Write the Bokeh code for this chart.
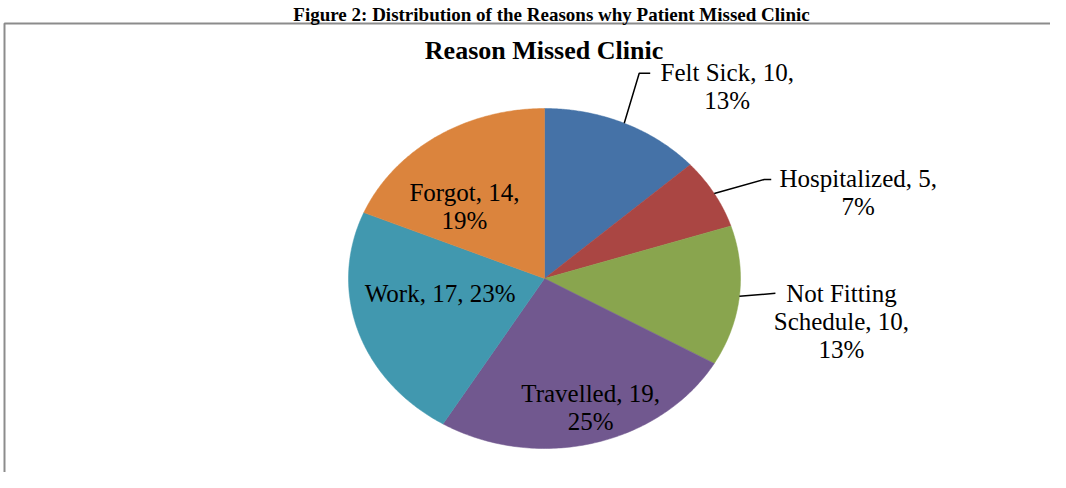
import numpy as np
from bokeh.plotting import figure
from bokeh.models import Range1d, ColumnDataSource
from bokeh.core.properties import value
from bokeh.embed import file_html
from bokeh.resources import INLINE

# ---------------- data ----------------
categories = ["Felt Sick", "Hospitalized", "Not Fitting Schedule", "Travelled", "Work", "Forgot"]
counts = [10, 5, 10, 19, 17, 14]
colors = ["#4572A7", "#AA4643", "#89A54E", "#71588F", "#4198AF", "#DB843D"]
chart_title = "Reason Missed Clinic"
figure_caption = "Figure 2: Distribution of the Reasons why Patient Missed Clinic"

# ---------------- layout / style ----------------
W, H = 1050, 472
CX, CY = 544, 278          # pie centre (px)
RX, RY = 196, 170          # pie radii (px) - the original is stretched horizontally
FONT = "Liberation Serif"
LABEL_SIZE = "25px"
LINE_GAP = 28
# words per line for each label, anchor (radial factor, dx, dy), leader offsets from edge point
label_wrap = [[3, 1], [2, 1], [2, 2, 1], [2, 1], [3], [2, 1]]
label_anchor = [(1.0, 103, -51), (1.0, 144, -15), (1.0, 102, -3),
                (0.70, 12, 0), (0.56, 0, -14), (0.60, -15, -1)]
leaders = [[(0, 0), (15, -50), (26, -50)],
           [(0, 0), (50, -14), (57, -14)],
           [(0, 0), (36, -3)],
           None, None, None]

# data coordinates == canvas pixel coordinates
p = figure(width=W, height=H, x_range=Range1d(0, W), y_range=Range1d(H, 0),
           output_backend="svg", toolbar_location=None, min_border=0,
           outline_line_color=None, background_fill_color="white",
           border_fill_color="white")
p.axis.visible = False
p.grid.visible = False

# chart border (grey frame)
p.line([4, 4, W + 20], [H + 20, 23, 23], line_color="#8c8c8c", line_width=2)

# pie slices
total = float(sum(counts))
fracs = np.array(counts) / total
ends = np.cumsum(fracs) * 2 * np.pi
starts = ends - fracs * 2 * np.pi
xs, ys = [], []
for a0, a1 in zip(starts, ends):
    t = np.linspace(a0, a1, 120)
    xs.append([CX] + list(CX + RX * np.sin(t)) + [CX])
    ys.append([CY] + list(CY - RY * np.cos(t)) + [CY])
p.patches(xs="xs", ys="ys", fill_color="color", line_color="color", line_width=0.5,
          source=ColumnDataSource(dict(xs=xs, ys=ys, color=colors)))

# labels
pcts = [f"{round(f * 100):.0f}%" for f in fracs]
tx, ty, tt = [], [], []
for i, (cat, n, pc) in enumerate(zip(categories, counts, pcts)):
    mid = (starts[i] + ends[i]) / 2
    ex, ey = CX + RX * np.sin(mid), CY - RY * np.cos(mid)
    r, dx, dy = label_anchor[i]
    ax = CX + r * RX * np.sin(mid) + dx
    ay = CY - r * RY * np.cos(mid) + dy
    words = f"{cat}, {n}, {pc}".split(" ")
    k = 0
    for j, nw in enumerate(label_wrap[i]):
        tx.append(ax)
        ty.append(ay + j * LINE_GAP)
        tt.append(" ".join(words[k:k + nw]))
        k += nw
    if leaders[i]:
        p.line([ex + o[0] for o in leaders[i]], [ey + o[1] for o in leaders[i]],
               line_color="black", line_width=1.5)

p.text(x=tx, y=ty, text=tt, text_font=value(FONT), text_font_size=LABEL_SIZE,
       text_align="center", text_baseline="alphabetic", text_color="black")

# titles
p.text(x=[543.5], y=[50], text=[chart_title], text_font=value(FONT), text_font_size="26px",
       text_font_style="bold", text_align="center", text_baseline="alphabetic", text_color="black")
p.text(x=[551], y=[14], text=[figure_caption], text_font=value(FONT), text_font_size="19px",
       text_font_style="bold", text_align="center", text_baseline="alphabetic", text_color="black")

open("out.html", "w").write(file_html(p, INLINE))
